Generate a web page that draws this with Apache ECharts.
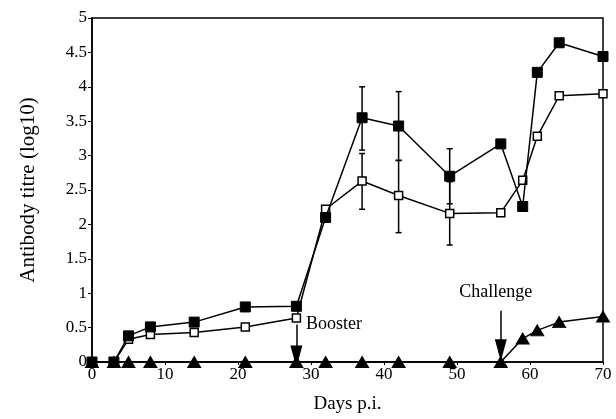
<!DOCTYPE html>
<html>
<head>
<meta charset="utf-8">
<script src="https://cdn.jsdelivr.net/npm/echarts@6/dist/echarts.min.js"></script>
<style>
html,body{margin:0;padding:0;background:#fff;}
#chart{width:616px;height:419px;}
</style>
</head>
<body>
<div id="chart"></div>
<script>
// ---- data ----
const days = [0, 3, 5, 8, 14, 21, 28, 32, 37, 42, 49, 56, 59, 61, 64, 70];
const filledSquares = [0, 0, 0.38, 0.51, 0.58, 0.80, 0.81, 2.10, 3.55, 3.43, 2.70, 3.17, 2.26, 4.21, 4.64, 4.44];
const openSquares   = [0, 0, 0.33, 0.40, 0.43, 0.51, 0.64, 2.22, 2.63, 2.42, 2.16, 2.17, 2.64, 3.28, 3.87, 3.90];
const triangles     = [0, 0, 0, 0, 0, 0, 0, 0, 0, 0, 0, 0, 0.34, 0.46, 0.58, 0.66];

const errDays = [37, 42, 49];
const filledLow  = [3.08, 2.93, 2.30];
const filledHigh = [4.00, 3.93, 3.10];
const openLow    = [2.22, 1.88, 1.70];
const openHigh   = [3.03, 2.93, 2.62];

const xTicks = [0, 10, 20, 30, 40, 50, 60, 70];
const yTicks = [0, 0.5, 1, 1.5, 2, 2.5, 3, 3.5, 4, 4.5, 5];

const boosterArrow = [[28, 0.55], [28, 0.08]];
const challengeArrow = [[56, 0.75], [56, 0.17]];

const FONT = 'Liberation Serif';

function pairs(xs, ys) { return xs.map((x, i) => [x, ys[i]]); }
function errData(lo, hi) { return errDays.map((d, i) => [d, lo[i], hi[i]]); }

function renderErr(params, api) {
  const x = api.value(0);
  const lo = api.coord([x, api.value(1)]);
  const hi = api.coord([x, api.value(2)]);
  const w = 3;
  const style = { stroke: '#000', lineWidth: 1.5 };
  return {
    type: 'group',
    children: [
      { type: 'line', shape: { x1: lo[0], y1: lo[1], x2: hi[0], y2: hi[1] }, style },
      { type: 'line', shape: { x1: lo[0] - w, y1: lo[1], x2: lo[0] + w, y2: lo[1] }, style },
      { type: 'line', shape: { x1: hi[0] - w, y1: hi[1], x2: hi[0] + w, y2: hi[1] }, style }
    ]
  };
}

const chart = echarts.init(document.getElementById('chart'), null, { renderer: 'canvas' });

const labelStyle = { fontFamily: FONT, fontSize: 18, color: '#000', opacity: 1 };

const option = {
  backgroundColor: '#fff',
  animation: false,
  grid: {
    left: 92, right: 13, top: 18, bottom: 47,
    show: true, borderColor: '#000', borderWidth: 1.5, backgroundColor: 'transparent'
  },
  xAxis: {
    type: 'value',
    min: xTicks[0], max: xTicks[xTicks.length - 1], interval: 10,
    name: 'Days p.i.', nameLocation: 'middle', nameGap: 33,
    nameTextStyle: { fontFamily: FONT, fontSize: 19, color: '#000' },
    axisLine: { show: true, onZero: false, lineStyle: { color: '#000', width: 1.5 } },
    axisTick: { show: true, inside: false, length: 3, lineStyle: { color: '#000', width: 1 } },
    axisLabel: { margin: 4, fontFamily: FONT, fontSize: 17, color: '#000' },
    splitLine: { show: false }
  },
  yAxis: {
    type: 'value',
    min: yTicks[0], max: yTicks[yTicks.length - 1], interval: 0.5,
    name: 'Antibody titre (log10)', nameLocation: 'middle', nameGap: 53,
    nameTextStyle: { fontFamily: FONT, fontSize: 21, color: '#000' },
    axisLine: { show: true, onZero: false, lineStyle: { color: '#000', width: 1.5 } },
    axisTick: { show: true, inside: false, length: 4, lineStyle: { color: '#000', width: 1 } },
    axisLabel: { margin: 5, fontFamily: FONT, fontSize: 17, color: '#000' },
    splitLine: { show: false }
  },
  series: [
    {
      type: 'line', name: 'triangles', data: pairs(days, triangles),
      symbol: 'triangle', symbolSize: [13, 11], showAllSymbol: true,
      lineStyle: { color: '#000', width: 1.5 },
      itemStyle: { color: '#000', borderColor: '#000' },
      z: 3,
      markLine: {
        silent: true, animation: false,
        symbol: ['none', 'triangle'], symbolSize: [12, 22],
        lineStyle: { color: '#000', width: 1.5, type: 'solid', opacity: 1 },
        label: { show: false },
        data: [
          [{ coord: boosterArrow[0] }, { coord: boosterArrow[1] }],
          [{ coord: challengeArrow[0] }, { coord: challengeArrow[1] }]
        ]
      }
    },
    {
      type: 'custom', name: 'openErr', renderItem: renderErr,
      data: errData(openLow, openHigh), encode: { x: 0, y: [1, 2] }, z: 2
    },
    {
      type: 'custom', name: 'filledErr', renderItem: renderErr,
      data: errData(filledLow, filledHigh), encode: { x: 0, y: [1, 2] }, z: 2
    },
    {
      type: 'line', name: 'open', data: pairs(days, openSquares),
      symbol: 'rect', symbolSize: 8, showAllSymbol: true,
      lineStyle: { color: '#000', width: 1.5 },
      itemStyle: { color: '#fff', borderColor: '#000', borderWidth: 1.5 },
      z: 4
    },
    {
      type: 'line', name: 'filled', data: pairs(days, filledSquares),
      symbol: 'rect', symbolSize: 10, showAllSymbol: true,
      lineStyle: { color: '#000', width: 1.5 },
      itemStyle: { color: '#000', borderColor: '#000' },
      z: 5
    },
    {
      type: 'scatter', name: 'labels', symbolSize: 1, silent: true,
      itemStyle: { color: '#fff', opacity: 1 },
      data: [
        { value: boosterArrow[0], label: Object.assign({ show: true, formatter: 'Booster', position: 'right', distance: 9 }, labelStyle) },
        { value: challengeArrow[0], label: Object.assign({ show: true, formatter: 'Challenge', position: 'top', distance: 9, offset: [-5, 0] }, labelStyle) }
      ],
      label: labelStyle,
      z: 6
    }
  ]
};
chart.setOption(option);
</script>
</body>
</html>
